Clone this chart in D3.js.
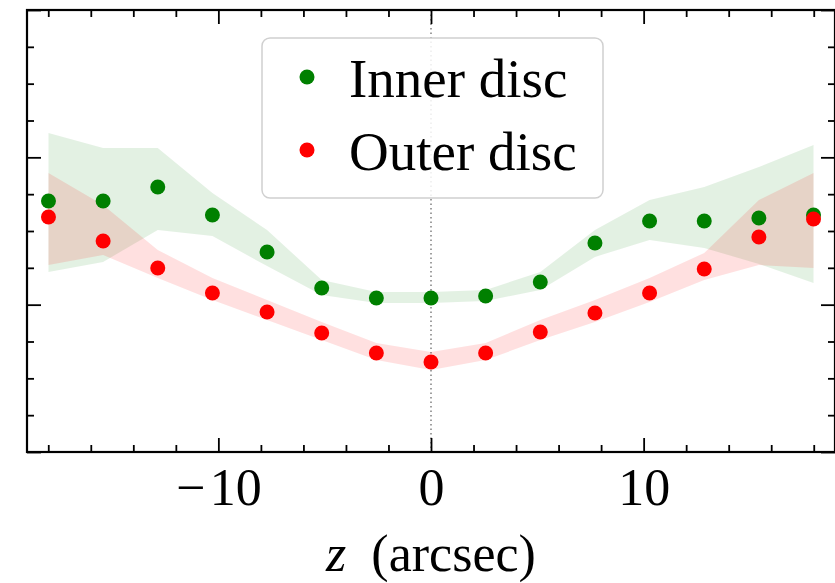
<!DOCTYPE html>
<html>
<head>
<meta charset="utf-8">
<script src="https://cdn.jsdelivr.net/npm/d3@7"></script>
<style>
  body { margin: 0; background: #fff; }
  svg { display: block; }
</style>
</head>
<body>
<svg id="chart"></svg>
<script>
// offsets along the slit (arcsec)
const zPos = [-17.99, -15.42, -12.85, -10.28, -7.71, -5.14, -2.57, 0, 2.57, 5.14, 7.71, 10.28, 12.85, 15.42, 17.99];

// inner disc points and their band
const innerVals  = [1.704, 1.704, 1.799, 1.609, 1.357, 1.113, 1.045, 1.045, 1.059, 1.154, 1.419, 1.568, 1.568, 1.588, 1.609];
const innerUpper = [2.165, 2.063, 2.063, 1.758, 1.507, 1.167, 1.086, 1.086, 1.100, 1.222, 1.507, 1.710, 1.799, 1.934, 2.083];
const innerLower = [1.222, 1.290, 1.507, 1.466, 1.262, 1.066, 1.011, 1.011, 1.025, 1.100, 1.324, 1.439, 1.385, 1.276, 1.147];

// outer disc points and their band
const outerVals  = [1.595, 1.432, 1.249, 1.079, 0.950, 0.808, 0.672, 0.611, 0.672, 0.814, 0.943, 1.079, 1.242, 1.459, 1.581];
const outerUpper = [1.894, 1.677, 1.371, 1.181, 1.032, 0.882, 0.740, 0.679, 0.740, 0.896, 1.032, 1.181, 1.351, 1.710, 1.894];
const outerLower = [1.269, 1.337, 1.181, 1.032, 0.896, 0.760, 0.624, 0.557, 0.624, 0.760, 0.882, 1.018, 1.167, 1.269, 1.249];

const xMajor = [-10, 0, 10];
const xMinor = [-18, -16, -14, -12, -8, -6, -4, -2, 2, 4, 6, 8, 12, 14, 16, 18];
const yMajor = [0, 1, 2, 3];
const yMinor = [0.25, 0.5, 0.75, 1.25, 1.5, 1.75, 2.25, 2.5, 2.75];
const legendNames = ["Inner disc", "Outer disc"];

const width = 835;
const height = 583;
const padL = 27, padR = 835, padT = 10, padB = 452;
const serif = "'Liberation Serif', 'Times New Roman', serif";

const svg = d3.select("#chart").attr("width", width).attr("height", height);

const x = d3.scaleLinear().domain([-19, 19]).range([padL, padR]);
const y = d3.scaleLinear().domain([0, 3]).range([padB, padT]);

svg.append("clipPath").attr("id", "plot-clip")
  .append("rect")
  .attr("x", padL).attr("y", padT)
  .attr("width", padR - padL).attr("height", padB - padT);

const plot = svg.append("g").attr("clip-path", "url(#plot-clip)");

// zero line
plot.append("line")
  .attr("x1", x(0)).attr("x2", x(0))
  .attr("y1", padT).attr("y2", padB)
  .attr("stroke", "#777")
  .attr("stroke-width", 1.4)
  .attr("stroke-dasharray", "1.5,3");

// shaded bands
const band = (lo, hi) => d3.area()
  .x((d, i) => x(zPos[i]))
  .y0((d, i) => y(lo[i]))
  .y1((d, i) => y(hi[i]));

plot.append("path")
  .datum(zPos)
  .attr("d", band(innerLower, innerUpper))
  .attr("fill", "green")
  .attr("fill-opacity", 0.11);

plot.append("path")
  .datum(zPos)
  .attr("d", band(outerLower, outerUpper))
  .attr("fill", "red")
  .attr("fill-opacity", 0.12);

// points
plot.selectAll(".inner")
  .data(innerVals)
  .enter()
  .append("circle")
  .attr("class", "inner")
  .attr("cx", (d, i) => x(zPos[i]))
  .attr("cy", (d) => y(d))
  .attr("r", 7.5)
  .attr("fill", "#008000");

plot.selectAll(".outer")
  .data(outerVals)
  .enter()
  .append("circle")
  .attr("class", "outer")
  .attr("cx", (d, i) => x(zPos[i]))
  .attr("cy", (d) => y(d))
  .attr("r", 7.5)
  .attr("fill", "#ff0000");

// axes, ticks pointing inward on every side
const drawAxis = (axis, vals, size, tr) => {
  const g = svg.append("g")
    .attr("transform", tr)
    .call(axis.tickValues(vals).tickSize(-size).tickSizeOuter(0).tickFormat(""));
  g.select(".domain").remove();
  g.selectAll("line").attr("stroke", "#000").attr("stroke-width", 1.8);
  return g;
};

drawAxis(d3.axisBottom(x), xMinor, 7, `translate(0,${padB})`);
drawAxis(d3.axisTop(x), xMinor, 7, `translate(0,${padT})`);
drawAxis(d3.axisTop(x), xMajor, 14, `translate(0,${padT})`);
drawAxis(d3.axisLeft(y), yMinor, 7, `translate(${padL},0)`);
drawAxis(d3.axisLeft(y), yMajor, 14, `translate(${padL},0)`);
drawAxis(d3.axisRight(y), yMinor, 7, `translate(${padR},0)`);
drawAxis(d3.axisRight(y), yMajor, 14, `translate(${padR},0)`);

const xAxis = svg.append("g")
  .attr("transform", `translate(0,${padB})`)
  .call(d3.axisBottom(x).tickValues(xMajor).tickSize(-14).tickSizeOuter(0)
    .tickFormat((d) => (d < 0 ? "\u2212\u200a" + Math.abs(d) : d)));
xAxis.select(".domain").remove();
xAxis.selectAll("line").attr("stroke", "#000").attr("stroke-width", 1.8);
xAxis.selectAll("text")
  .attr("y", 53)
  .attr("dy", null)
  .attr("fill", "#000")
  .style("font-family", serif)
  .style("font-size", "52px");

// frame
svg.append("rect")
  .attr("x", padL).attr("y", padT)
  .attr("width", padR - padL).attr("height", padB - padT)
  .attr("fill", "none")
  .attr("stroke", "#000")
  .attr("stroke-width", 2.2);

// axis title
const title = svg.append("text")
  .attr("x", x(0))
  .attr("y", 571)
  .attr("text-anchor", "middle")
  .attr("fill", "#000")
  .style("font-family", serif)
  .style("font-size", "52px");
title.append("tspan").attr("font-style", "italic").text("z");
title.append("tspan").attr("dx", 12).text(" (arcsec)");

// legend
const legend = svg.append("g");
legend.append("rect")
  .attr("x", 262).attr("y", 38)
  .attr("width", 341).attr("height", 160)
  .attr("rx", 8)
  .attr("fill", "#fff")
  .attr("fill-opacity", 0.85)
  .attr("stroke", "#d0d0d0")
  .attr("stroke-width", 1.5);

const legendColors = ["#008000", "#ff0000"];
legendNames.forEach((name, i) => {
  const cy = 77 + i * 73;
  legend.append("circle")
    .attr("cx", 307).attr("cy", cy).attr("r", 7.5)
    .attr("fill", legendColors[i]);
  legend.append("text")
    .attr("x", 349).attr("y", cy + 20)
    .attr("fill", "#000")
    .style("font-family", serif)
    .style("font-size", "55px")
    .text(name);
});
</script>
</body>
</html>
